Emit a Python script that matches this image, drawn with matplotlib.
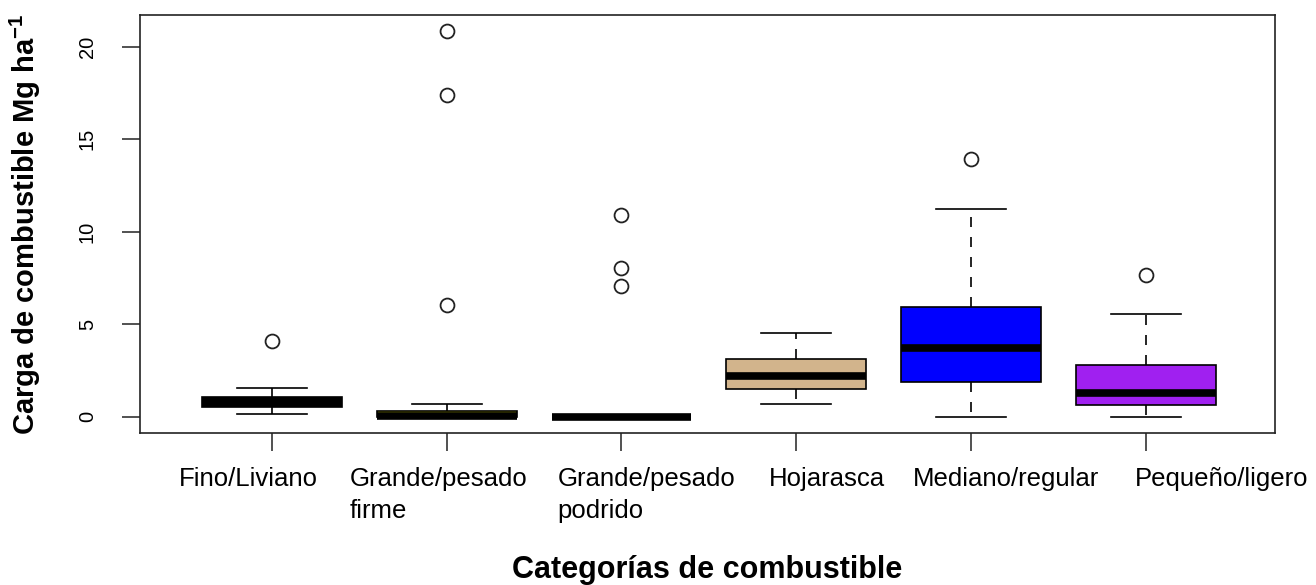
import matplotlib
matplotlib.use("Agg")
import matplotlib.pyplot as plt

# boxplot of fuel load by fuel category (R-style look)

plt.rcParams['font.family'] = ['Liberation Sans', 'DejaVu Sans']
plt.rcParams['mathtext.fontset'] = 'custom'
plt.rcParams['mathtext.rm'] = 'Liberation Sans'
plt.rcParams['mathtext.bf'] = 'Liberation Sans:bold'

categories = ["Fino/Liviano", "Grande/pesado\nfirme", "Grande/pesado\npodrido",
              "Hojarasca", "Mediano/regular", "Pequeño/ligero"]
q1      = [0.53, 0.00, 0.00, 1.49, 1.85, 0.64]
medians = [0.80, 0.02, 0.00, 2.19, 3.72, 1.26]
q3      = [1.07, 0.32, 0.00, 3.11, 5.94, 2.77]
whis_lo = [0.12, 0.00, 0.00, 0.68, 0.00, 0.00]
whis_hi = [1.53, 0.68, 0.00, 4.52, 11.25, 5.56]
outliers = [[4.07], [6.04, 17.4, 20.88], [7.06, 8.02, 10.9], [], [13.92], [7.66]]
yticks = [0, 5, 10, 15, 20]

box_colors = ["black", "#CDCD00", "black", "#D2B48C", "#0000FF", "#A020F0"]
label_x = [0.468, 1.446, 2.634, 3.843, 4.667, 5.937]   # left edge of each label

stats = []
for i in range(len(categories)):
    stats.append(dict(q1=q1[i], med=medians[i], q3=q3[i],
                      whislo=whis_lo[i], whishi=whis_hi[i], fliers=outliers[i]))

fig = plt.figure(figsize=(13.16, 5.85), dpi=100)
ax = fig.add_axes([140/1316, 1 - 433/585, 1135/1316, 418/585])

pos = list(range(1, len(categories) + 1))
lw = 1.2
bp = ax.bxp(stats, positions=pos, widths=0.8, capwidths=0.4, patch_artist=True,
            boxprops=dict(edgecolor="black", linewidth=lw),
            whiskerprops=dict(color="black", linewidth=lw, linestyle=(0, (6, 6))),
            capprops=dict(color="black", linewidth=lw),
            medianprops=dict(color="black", linewidth=5.5, solid_capstyle="butt"),
            flierprops=dict(marker="o", markerfacecolor="none", markeredgecolor="#222222",
                            markersize=10, markeredgewidth=1.3, linestyle="none"))
for patch, c in zip(bp["boxes"], box_colors):
    patch.set_facecolor(c)

ax.set_xlim(0.245, 6.74)
ax.set_ylim(-0.89, 21.73)
ax.set_xticks(pos)
ax.set_xticklabels([])
ax.set_yticks(yticks)
ax.set_yticklabels([str(t) for t in yticks], rotation=90, va="center", fontsize=14.5)
ax.tick_params(axis="both", direction="out", length=13, width=1.1, color="#222222")
ax.tick_params(axis="y", pad=18)
for s in ax.spines.values():
    s.set_linewidth(1.2)
    s.set_color("#222222")

# category labels, drawn line by line below the axis
tr = ax.get_xaxis_transform()
for x, name in zip(label_x, categories):
    for j, line in enumerate(name.split("\n")):
        yb = (433 - (486 + 32 * j)) / 418
        ax.text(x, yb, line, transform=tr, ha="left", va="baseline", fontsize=18.5)

fig.text(707/1316, 1 - 578/585, "Categorías de combustible", ha="center",
         va="baseline", fontsize=22, fontweight="bold")
fig.text(25/1316, 1 - 224/585, r"Carga de combustible Mg ha$^{\mathbf{-1}}$",
         rotation=90, ha="center", va="center", fontsize=21, fontweight="bold")

fig.savefig("out.png", dpi=100)
